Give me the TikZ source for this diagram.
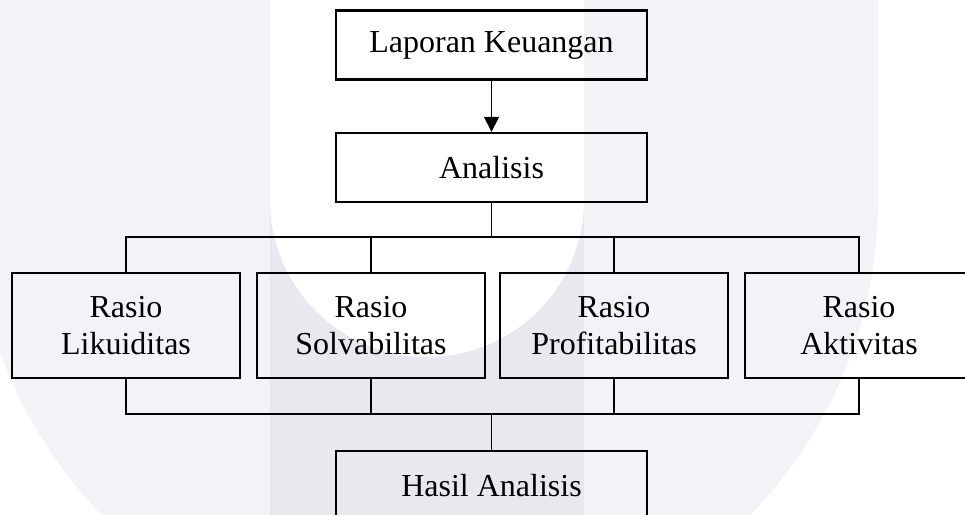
\documentclass[tikz,border=0pt]{standalone}
\usepackage{fontspec}
\setmainfont{Liberation Serif}
\usetikzlibrary{arrows.meta}
\definecolor{wmterang}{RGB}{243,243,247}
\definecolor{wmgelap}{RGB}{232,232,238}
\tikzset{
	kotak/.style={draw, line width=0.85pt, minimum width=85.5pt, minimum height=39.4pt, align=center, inner sep=0pt, font=\fontsize{12}{13.8}\selectfont},
	kotakatas/.style={kotak, minimum width=116.6pt, minimum height=25.9pt},
	garis/.style={line width=0.55pt},
	panah/.style={garis, -{Triangle[length=5.6pt, width=5.6pt]}}
}

\begin{document}
\begin{tikzpicture}[x=0.375pt, y=0.375pt]
			%%%%% START %%%%%
			\useasboundingbox (0,0) rectangle (965,-515);
			
			% watermark
			\fill[wmterang] (-26,10) -- (-26,-200) arc (180:360:452) -- (878,10) -- cycle;
			\fill[wmgelap] (270,-200) rectangle (584,-530);
			\fill[white] (270,10) -- (270,-200) arc (180:360:157) -- (584,10) -- cycle;
			
			\node[kotakatas] (lap) at (491.5,-45) {Laporan Keuangan};
			\node[kotakatas] (ana) at (491.5,-167.5) {Analisis};
			
			\node[kotak] (lik) at (126,-325.5) {Rasio\\Likuiditas};
			\node[kotak] (sol) at (371,-325.5) {Rasio\\Solvabilitas};
			\node[kotak] (pro) at (614,-325.5) {Rasio\\Profitabilitas};
			\node[kotak] (akt) at (859,-325.5) {Rasio\\Aktivitas};
			
			\node[kotakatas] (has) at (491.5,-485.5) {Hasil Analisis};
			
			\coordinate (cabang) at (491.5,-237);
			\coordinate (gabung) at (491.5,-414);
			
			\draw[panah] (lap) -- (ana);
			\draw[garis] (ana) -- (cabang);
			\draw[garis] (lik.north) |- (cabang) -| (akt.north);
			\draw[garis] (sol.north) -- (sol.north |- cabang);
			\draw[garis] (pro.north) -- (pro.north |- cabang);
			
			\draw[garis] (lik.south) |- (gabung) -| (akt.south);
			\draw[garis] (sol.south) -- (sol.south |- gabung);
			\draw[garis] (pro.south) -- (pro.south |- gabung);
			\draw[garis] (gabung) -- (has);
			
			%%%%% END %%%%%
		\end{tikzpicture}
\end{document}
